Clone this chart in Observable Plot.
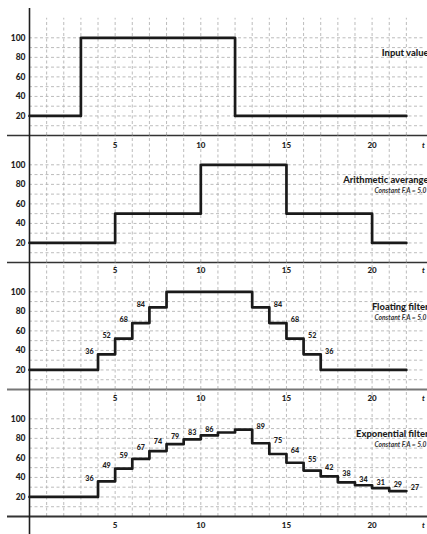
<!DOCTYPE html>
<html>
<head>
<meta charset="utf-8">
<script src="https://cdn.jsdelivr.net/npm/d3@7"></script>
<script src="https://cdn.jsdelivr.net/npm/@observablehq/plot@0.6"></script>
<style>
  html, body { margin: 0; padding: 0; background: #fff; }
  #chart svg { display: block; }
</style>
</head>
<body>
<div id="chart"></div>
<script>
// ---- data ----
const time = [0,1,2,3,4,5,6,7,8,9,10,11,12,13,14,15,16,17,18,19,20,21,22];
const gridTimes = [1,2,3,4,5,6,7,8,9,10,11,12,13,14,15,16,17,18,19,20,21,22];
const gridValues = [10,20,30,40,50,60,70,80,90,100];
const yTickValues = [20,40,60,80,100];
const xTickValues = [5,10,15,20];
const xTickLabels = ["5","10","15","20"];
const timeAxisValue = [23];
const timeAxisLabel = "t";

const inputValue = [20,20,20,100,100,100,100,100,100,100,100,100,20,20,20,20,20,20,20,20,20,20];
const arithmeticAverage = [20,20,20,20,20,50,50,50,50,50,100,100,100,100,100,50,50,50,50,50,20,20];
const floatingFilter = [20,20,20,20,36,52,68,84,100,100,100,100,100,84,68,52,36,20,20,20,20,20];
const exponentialFilter = [20,20,20,20,36,49,59,67,74,79,83,86,89,75,64,55,47,41,35,32,29,26];

const floatLabelSteps = [4,5,6,7,13,14,15,16];
const floatLabelText = ["36","52","68","84","84","68","52","36"];
const expLabelSteps = [4,5,6,7,8,9,10,11,12,13,14,15,16,17,18,19,20,21];
const expLabelText = ["36","49","59","67","74","79","83","86","89","75","64","55","42","38","34","31","29","27"];

const titles = ["Input value", "Arithmetic averange", "Floating filter", "Exponential filter"];
const subtitle = "Constant F.A = 5.0";

// ---- helpers ----
const FONT = "Lato, 'Open Sans', sans-serif";
const INK = "#1e1e1e";

function stepPoints(values) {
  const pts = values.map((v, i) => ({t: time[i], v}));
  pts.push({t: time[values.length], v: values[values.length - 1]});
  return pts;
}
function labelPoints(values, steps, texts) {
  return steps.map((i, k) => {
    const right = i === values.length - 1 || values[i + 1] < values[i];
    return {t: right ? time[i] + 1.5 : time[i] - 0.5, v: values[i], text: texts[k]};
  });
}

const panels = [
  {values: inputValue, title: titles[0], sub: null, labels: null, height: 135, mt: 8, mb: 0, gridTop: 120, topTicks: null, bottomTicks: false, sep: {stroke: "#333", w: 1.6}},
  {values: arithmeticAverage, title: titles[1], sub: subtitle, labels: null, height: 127, mt: 0, mb: 0, gridTop: 130, topTicks: 10, bottomTicks: false, sep: {stroke: "#333", w: 1.6}},
  {values: floatingFilter, title: titles[2], sub: subtitle, labels: labelPoints(floatingFilter, floatLabelSteps, floatLabelText), height: 127, mt: 0, mb: 0, gridTop: 130, topTicks: 8, bottomTicks: false, sep: {stroke: "#777", w: 2.2}},
  {values: exponentialFilter, title: titles[3], sub: subtitle, labels: labelPoints(exponentialFilter, expLabelSteps, expLabelText), height: 145, mt: 0, mb: 18, gridTop: 130, topTicks: 9, bottomTicks: true, sep: {stroke: "#333", w: 1.8}}
];

const container = document.getElementById("chart");

function xTickMarks(anchor, dy) {
  return [
    Plot.text(xTickValues, {x: d => d, frameAnchor: anchor, dy, lineAnchor: "middle", text: (d, i) => xTickLabels[i], fontSize: 8, fontWeight: 900, fill: INK}),
    Plot.text(timeAxisValue, {x: d => d, frameAnchor: anchor, dy, lineAnchor: "middle", text: () => timeAxisLabel, fontSize: 7.5, fontStyle: "italic", fontWeight: 900, fill: INK})
  ];
}

for (const p of panels) {
  const marks = [
    Plot.ruleY(gridValues, {stroke: "#b4b4b4", strokeWidth: 0.9, strokeDasharray: "3,2.5"}),
    Plot.ruleX(gridTimes, {y1: 0, y2: p.gridTop, stroke: "#b4b4b4", strokeWidth: 0.9, strokeDasharray: "3,2.5"}),
    Plot.ruleY([0], {stroke: p.sep.stroke, strokeWidth: p.sep.w, insetLeft: -22, insetRight: -4}),
    Plot.ruleX([0], {stroke: INK, strokeWidth: 1.6, insetBottom: p.bottomTicks ? -p.mb : 0}),
    Plot.axisY(yTickValues, {tickSize: 0, tickPadding: 4, fontSize: 8.5, fontWeight: 900, fill: INK, label: null}),
    Plot.line(stepPoints(p.values), {x: "t", y: "v", curve: "step-after", stroke: "#1a1a1a", strokeWidth: 2.7}),
    Plot.text([p.title], {frameAnchor: "top-right", dy: 44, dx: 5, textAnchor: "end", lineAnchor: "middle", fontSize: 9.4, fontWeight: 900, fill: INK})
  ];
  if (p.sub) {
    marks.push(Plot.text([p.sub], {frameAnchor: "top-right", dy: 55, dx: 3, textAnchor: "end", lineAnchor: "middle", fontSize: 6.7, fontStyle: "italic", fontWeight: "bold", fill: "#333"}));
  }
  if (p.topTicks !== null) marks.push(...xTickMarks("top", p.topTicks));
  if (p.bottomTicks) marks.push(...xTickMarks("bottom", 9));
  if (p.labels) {
    marks.push(Plot.text(p.labels, {x: "t", y: "v", text: "text", dy: -3, lineAnchor: "middle", fontSize: 7.2, fontWeight: 900, fill: INK}));
  }
  const chart = Plot.plot({
    width: 427,
    height: p.height,
    marginTop: p.mt,
    marginBottom: p.mb,
    marginLeft: 29,
    marginRight: 4,
    x: {domain: [0, 23], axis: null},
    y: {domain: [0, 130], axis: null},
    style: {fontFamily: FONT, background: "#fff", overflow: "visible"},
    marks
  });
  container.appendChild(chart);
}
</script>
</body>
</html>
